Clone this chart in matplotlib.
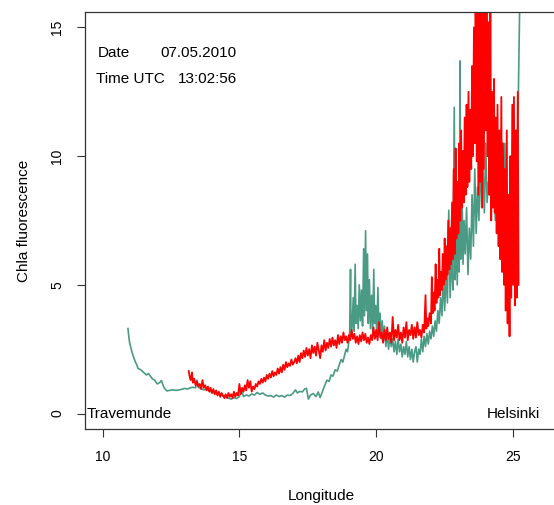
import matplotlib
matplotlib.use("Agg")
import matplotlib.pyplot as plt

plt.rcParams['font.family'] = ['Liberation Sans', 'DejaVu Sans']

# green track (first transect), longitude / chla fluorescence
green_lon = [10.93, 10.97, 11.0, 11.05, 11.1, 11.15, 11.2, 11.25, 11.3, 11.4,
             11.5, 11.6, 11.68, 11.75, 11.82, 11.9, 12.0, 12.08, 12.15, 12.25,
             12.35, 12.45, 12.55, 12.7, 12.85, 13.0, 13.1, 13.2, 13.3, 13.4,
             13.45, 13.5, 13.6, 13.7, 13.8, 13.9, 14.0, 14.1, 14.2, 14.3,
             14.4, 14.5, 14.6, 14.7, 14.8, 14.9, 15.0, 15.08, 15.15, 15.25,
             15.35, 15.45, 15.55, 15.65, 15.75, 15.85, 15.95, 16.05, 16.15, 16.25,
             16.35, 16.45, 16.55, 16.65, 16.75, 16.85, 16.95, 17.05, 17.12, 17.2,
             17.3, 17.38, 17.45, 17.52, 17.6, 17.7, 17.8, 17.88, 17.95, 18.05,
             18.12, 18.2, 18.28, 18.35, 18.42, 18.5, 18.58, 18.65, 18.72, 18.78,
             18.85, 18.9, 18.95, 19.0, 19.03, 19.06, 19.08, 19.12, 19.16, 19.19,
             19.23, 19.26, 19.3, 19.34, 19.38, 19.42, 19.46, 19.5, 19.54, 19.57,
             19.61, 19.64, 19.68, 19.71, 19.75, 19.79, 19.83, 19.87, 19.91, 19.94,
             19.98, 20.02, 20.06, 20.1, 20.14, 20.18, 20.22, 20.26, 20.3, 20.35,
             20.4, 20.45, 20.5, 20.55, 20.6, 20.65, 20.7, 20.75, 20.8, 20.85,
             20.9, 20.95, 21.0, 21.05, 21.1, 21.15, 21.2, 21.25, 21.3, 21.35,
             21.4, 21.45, 21.5, 21.55, 21.6, 21.65, 21.7, 21.75, 21.8, 21.85,
             21.9, 21.95, 22.0, 22.05, 22.1, 22.15, 22.2, 22.25, 22.3, 22.35,
             22.4, 22.45, 22.5, 22.55, 22.6, 22.65, 22.7, 22.75, 22.8, 22.85,
             22.88, 22.92, 22.96, 23.0, 23.03, 23.06, 23.09, 23.13, 23.17, 23.21,
             23.25, 23.3, 23.35, 23.4, 23.45, 23.5, 23.55, 23.6, 23.65, 23.7,
             23.75, 23.8, 23.85, 23.9, 23.95, 24.0, 24.05, 24.1, 24.15, 24.2,
             24.25, 24.3, 24.35, 24.4, 24.45, 24.5, 24.55, 24.6, 24.65, 24.7,
             24.75, 24.8, 24.85, 24.9, 24.95, 25.0, 25.05, 25.1, 25.15, 25.2,
             25.25]
green_chl = [3.3, 2.9, 2.7, 2.5, 2.3, 2.15, 2.0, 1.9, 1.75, 1.7,
             1.6, 1.5, 1.55, 1.45, 1.35, 1.3, 1.15, 1.2, 1.28, 1.0,
             0.88, 0.9, 0.92, 0.9, 0.93, 0.98, 0.95, 1.0, 1.02, 1.0,
             1.3, 1.02, 0.98, 0.92, 0.95, 0.88, 0.82, 0.8, 0.74, 0.76,
             0.68, 0.7, 0.6, 0.56, 0.62, 0.58, 0.66, 0.92, 0.66, 0.72,
             0.68, 0.76, 0.72, 0.82, 0.75, 0.8, 0.72, 0.68, 0.7, 0.64,
             0.72, 0.66, 0.7, 0.64, 0.72, 0.7, 0.78, 0.92, 0.8, 0.86,
             0.84, 0.95, 0.98, 0.56, 0.72, 0.78, 0.66, 0.84, 0.62, 0.9,
             1.1, 1.3, 1.25, 1.5, 1.45, 1.7, 1.65, 1.9, 2.1, 2.0,
             2.3, 2.5, 2.4, 2.8, 3.2, 5.6, 3.0, 3.4, 4.5, 3.2,
             5.8, 3.5, 4.2, 3.3, 5.0, 3.6, 4.8, 3.4, 6.4, 3.8,
             7.1, 4.0, 6.2, 3.5, 5.2, 3.3, 4.6, 3.2, 5.6, 3.5,
             4.2, 3.0, 4.9, 3.1, 3.9, 2.9, 3.6, 2.8, 3.4, 2.6,
             3.1, 2.5, 3.0, 2.6, 2.9, 2.4, 2.8, 2.3, 2.9, 2.4,
             2.7, 2.2, 2.6, 2.3, 2.8, 2.2, 2.6, 2.1, 2.5, 2.0,
             2.4, 2.6, 2.0, 2.5, 2.3, 2.9, 2.4, 3.0, 2.6, 3.1,
             2.7, 3.2, 2.9, 3.4, 3.0, 3.6, 3.2, 4.0, 3.5, 4.5,
             3.8, 5.3, 4.0, 5.5, 4.3, 7.9, 4.5, 6.2, 4.8, 11.9,
             5.2, 7.0, 5.0, 8.5, 5.5, 13.7, 6.0, 9.0, 5.8, 7.5,
             6.2, 8.0, 5.4, 7.2, 6.0, 8.5, 6.5, 9.5, 7.0, 8.8,
             7.5, 10.0, 8.0, 9.5, 7.8, 10.5, 8.2, 9.0, 8.5, 10.0,
             8.0, 9.2, 7.5, 9.8, 7.0, 8.5, 6.8, 9.0, 7.2, 10.5,
             6.5, 8.0, 5.5, 9.0, 6.0, 10.0, 7.0, 11.0, 8.0, 13.0,
             16.5]

# red track (second transect)
red_lon = [13.15, 13.18, 13.22, 13.27, 13.3, 13.35, 13.4, 13.45, 13.5, 13.55,
           13.6, 13.65, 13.7, 13.75, 13.8, 13.85, 13.9, 13.95, 14.0, 14.05,
           14.1, 14.15, 14.2, 14.25, 14.3, 14.35, 14.4, 14.45, 14.5, 14.55,
           14.6, 14.65, 14.7, 14.75, 14.8, 14.85, 14.9, 14.95, 15.0, 15.05,
           15.1, 15.15, 15.2, 15.25, 15.3, 15.35, 15.4, 15.45, 15.5, 15.55,
           15.6, 15.65, 15.7, 15.75, 15.8, 15.85, 15.9, 15.95, 16.0, 16.05,
           16.1, 16.15, 16.2, 16.25, 16.3, 16.35, 16.4, 16.45, 16.5, 16.55,
           16.6, 16.65, 16.7, 16.75, 16.8, 16.85, 16.9, 16.95, 17.0, 17.05,
           17.1, 17.15, 17.2, 17.25, 17.3, 17.35, 17.4, 17.45, 17.5, 17.55,
           17.6, 17.65, 17.7, 17.75, 17.8, 17.85, 17.9, 17.95, 18.0, 18.05,
           18.1, 18.15, 18.2, 18.25, 18.3, 18.35, 18.4, 18.45, 18.5, 18.55,
           18.6, 18.65, 18.7, 18.75, 18.8, 18.85, 18.9, 18.95, 19.0, 19.05,
           19.1, 19.15, 19.2, 19.25, 19.3, 19.35, 19.4, 19.45, 19.5, 19.55,
           19.6, 19.65, 19.7, 19.75, 19.8, 19.85, 19.9, 19.95, 20.0, 20.05,
           20.1, 20.15, 20.2, 20.25, 20.3, 20.35, 20.4, 20.45, 20.5, 20.55,
           20.6, 20.65, 20.7, 20.75, 20.8, 20.85, 20.9, 20.95, 21.0, 21.05,
           21.1, 21.15, 21.2, 21.25, 21.3, 21.35, 21.4, 21.45, 21.5, 21.55,
           21.6, 21.65, 21.7, 21.75, 21.8, 21.83, 21.87, 21.9, 21.95, 22.0,
           22.03, 22.06, 22.1, 22.13, 22.17, 22.2, 22.23, 22.27, 22.3, 22.33,
           22.37, 22.4, 22.43, 22.47, 22.5, 22.53, 22.57, 22.6, 22.63, 22.67,
           22.7, 22.73, 22.77, 22.8, 22.83, 22.87, 22.9, 22.93, 22.97, 23.0,
           23.03, 23.07, 23.1, 23.13, 23.17, 23.2, 23.23, 23.27, 23.3, 23.33,
           23.37, 23.4, 23.43, 23.47, 23.5, 23.53, 23.57, 23.6, 23.63, 23.67,
           23.7, 23.73, 23.77, 23.8, 23.83, 23.87, 23.9, 23.93, 23.97, 24.0,
           24.03, 24.07, 24.1, 24.13, 24.17, 24.2, 24.23, 24.27, 24.3, 24.33,
           24.37, 24.4, 24.43, 24.47, 24.5, 24.53, 24.57, 24.6, 24.63, 24.67,
           24.7, 24.73, 24.77, 24.8, 24.83, 24.87, 24.9, 24.93, 24.97, 25.0,
           25.03, 25.07, 25.1, 25.13, 25.17, 25.2]
red_chl = [1.65, 1.45, 1.3, 1.6, 1.2, 1.35, 1.1, 1.25, 1.05, 1.15,
           0.95, 1.3, 1.0, 1.1, 0.9, 1.05, 0.85, 1.0, 0.8, 0.95,
           0.75, 0.9, 0.7, 0.85, 0.65, 0.8, 0.7, 0.6, 0.75, 0.6,
           0.8, 0.65, 0.75, 0.6, 0.85, 0.65, 0.8, 0.7, 1.15, 0.75,
           1.0, 0.85, 1.1, 0.9, 1.3, 1.0, 1.25, 0.85, 1.05, 0.95,
           1.15, 1.05, 1.25, 1.15, 1.35, 1.2, 1.4, 1.25, 1.5, 1.35,
           1.55, 1.4, 1.65, 1.45, 1.6, 1.5, 1.75, 1.55, 1.8, 1.6,
           1.9, 1.7, 2.0, 1.8, 1.95, 1.85, 2.1, 1.9, 2.0, 2.15,
           1.95, 2.25, 2.0, 2.35, 2.15, 2.45, 2.2, 2.55, 2.25, 2.5,
           2.15, 2.65, 2.35, 2.6, 2.25, 2.75, 2.45, 2.15, 2.65, 2.4,
           2.85, 2.45, 2.75, 2.55, 2.9, 2.6, 2.95, 2.65, 2.85, 2.55,
           3.05, 2.7, 3.0, 2.75, 3.15, 2.85, 3.0, 2.75, 3.05, 2.85,
           3.25, 2.9, 3.1, 2.75, 3.0, 2.7, 3.05, 2.8, 3.15, 2.85,
           3.1, 2.75, 2.95, 2.7, 3.05, 2.85, 3.35, 2.9, 3.25, 2.85,
           3.55, 2.95, 3.15, 2.75, 3.25, 2.85, 3.35, 2.9, 3.15, 2.75,
           3.75, 2.85, 3.25, 2.95, 3.45, 2.85, 3.15, 2.75, 3.35, 2.95,
           3.55, 2.85, 3.25, 3.05, 3.45, 2.9, 3.35, 2.95, 3.55, 3.05,
           3.25, 2.95, 3.45, 3.15, 4.6, 3.3, 3.7, 3.4, 3.9, 3.5,
           5.3, 3.9, 4.7, 4.0, 5.8, 4.3, 5.2, 4.5, 6.4, 4.6,
           5.5, 4.8, 6.2, 5.0, 6.8, 5.2, 6.5, 5.4, 7.5, 5.6,
           7.2, 5.8, 8.2, 6.0, 9.5, 6.2, 10.3, 6.8, 9.0, 7.0,
           10.5, 7.5, 11.0, 8.0, 10.2, 8.2, 11.5, 8.5, 12.0, 8.8,
           12.5, 9.0, 11.8, 9.5, 13.5, 10.0, 15.0, 10.5, 16.5, 9.8,
           16.0, 8.5, 16.5, 9.0, 16.2, 8.0, 16.5, 9.5, 16.0, 11.0,
           16.5, 10.0, 15.2, 8.5, 16.5, 7.5, 12.5, 8.0, 13.0, 7.8,
           11.5, 7.0, 12.0, 6.5, 11.0, 6.0, 12.3, 5.5, 10.5, 5.0,
           9.5, 4.0, 11.0, 3.5, 8.5, 3.0, 10.0, 4.5, 12.0, 5.0,
           12.3, 4.2, 11.0, 4.5, 12.5, 5.0]

y_ticks = [0, 5, 10, 15]
x_ticks = [10, 15, 20, 25]

fig = plt.figure(figsize=(5.54, 5.05), dpi=100)
ax = fig.add_axes([85 / 554, 76 / 505, 473 / 554, 417 / 505])

ax.plot(green_lon, green_chl, color='#4a9a84', lw=1.2)
ax.plot(red_lon, red_chl, color='#ff0000', lw=1.3)

ax.set_xlim(9.36, 26.64)
ax.set_ylim(-0.6, 15.6)
ax.set_xticks(x_ticks)
ax.set_yticks(y_ticks)
ax.tick_params(direction='out', length=6, width=0.8, labelsize=10, color='#333333')
ax.tick_params(axis='x', pad=9)
ax.tick_params(axis='y', pad=9)
for lab in ax.get_yticklabels():
    lab.set_rotation(90)
    lab.set_va('center')
for sp in ax.spines.values():
    sp.set_linewidth(0.9)
    sp.set_color('#333333')

ax.set_xlabel('Longitude', fontsize=11, labelpad=18)
ax.set_ylabel('Chla fluorescence', fontsize=11, labelpad=14)

ax.text(9.82, 14.0, 'Date', fontsize=11, va='center')
ax.text(12.12, 14.0, '07.05.2010', fontsize=11, va='center')
ax.text(9.78, 13.0, 'Time UTC', fontsize=11, va='center')
ax.text(12.74, 13.0, '13:02:56', fontsize=11, va='center')
ax.text(10.98, 0, 'Travemunde', fontsize=11, ha='center', va='center')
ax.text(25.0, 0, 'Helsinki', fontsize=11, ha='center', va='center')

fig.savefig('out.png', dpi=100)
